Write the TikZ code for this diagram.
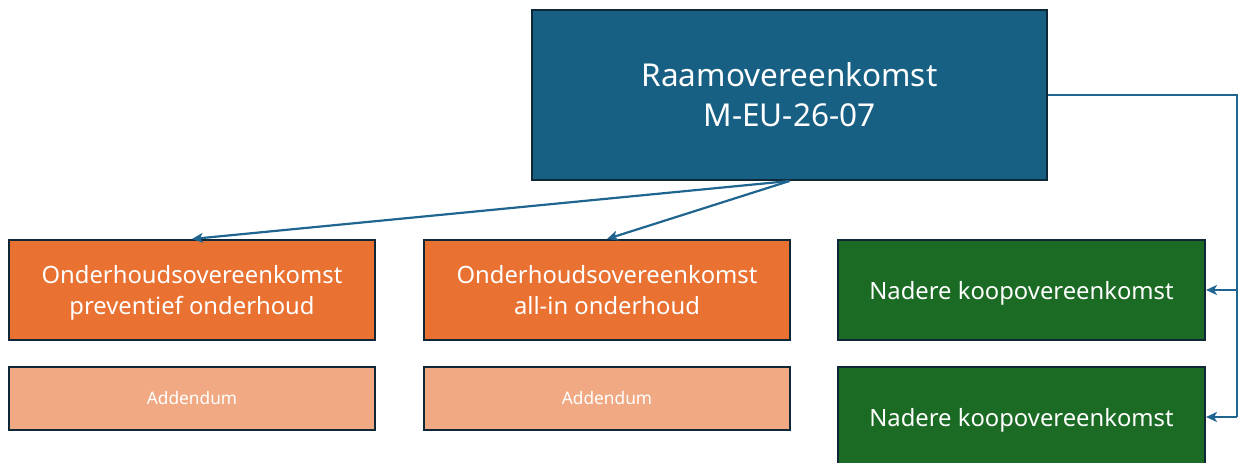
\documentclass[tikz,border=0pt]{standalone}
\usepackage{fontspec}
\setmainfont{Noto Sans}
\usetikzlibrary{arrows.meta}

\definecolor{raamblue}{HTML}{176083}
\definecolor{onderorange}{HTML}{E97132}
\definecolor{addlight}{HTML}{F1A983}
\definecolor{koopgreen}{HTML}{1B6B24}
\definecolor{boxline}{HTML}{0E2838}
\definecolor{linkblue}{HTML}{1F6590}

\tikzset{
  box/.style={draw=boxline, line width=2pt, text=white, align=center, inner sep=0pt},
  raambox/.style={box, fill=raamblue, minimum width=515pt, minimum height=170pt,
    font=\fontsize{31.5}{40}\selectfont},
  onderbox/.style={box, fill=onderorange, minimum width=366pt, minimum height=100pt,
    text depth=0pt, font=\fontsize{23.8}{31}\selectfont},
  addbox/.style={box, fill=addlight, minimum width=366pt, minimum height=63pt,
    font=\fontsize{17.3}{20}\selectfont},
  koopbox/.style={box, fill=koopgreen, minimum width=367pt, minimum height=100pt,
    text depth=0pt, font=\fontsize{23.8}{31}\selectfont},
  line/.style={draw=linkblue, line width=2.2pt},
  link/.style={line, -{Stealth[length=11pt,width=10pt,inset=3pt]}},
}

\begin{document}
\begin{tikzpicture}[x=1pt,y=-1pt]
  \useasboundingbox (0,0) rectangle (1243,463);

  \node[raambox] (raam) at (789.5,95) {Raamovereenkomst\\M-EU-26-07};

  \node[onderbox] (onder1) at (192,290) {Onderhoudsovereenkomst\\preventief onderhoud};
  \node[onderbox] (onder2) at (607,290) {Onderhoudsovereenkomst\\all-in onderhoud};
  \node[koopbox] (koop1) at (1021.5,290) {Nadere koopovereenkomst};

  \node[addbox] (add1) at (192,398.5) {Addendum};
  \node[addbox] (add2) at (607,398.5) {Addendum};
  \node[koopbox] (koop2) at (1021.5,417) {Nadere koopovereenkomst};

  % links from the raamovereenkomst
  \draw[link] (raam.south) -- (onder1.north);
  \draw[link] (raam.south) -- (onder2.north);

  \coordinate (rtop) at (1237,95);
  \coordinate (rmid) at (1237,290);
  \coordinate (rbot) at (1237,417);
  \draw[line] (raam.east) -- (rtop) -- (rbot);
  \draw[link] (rmid) -- (koop1.east);
  \draw[link] (rbot) -- (koop2.east);
\end{tikzpicture}
\end{document}
